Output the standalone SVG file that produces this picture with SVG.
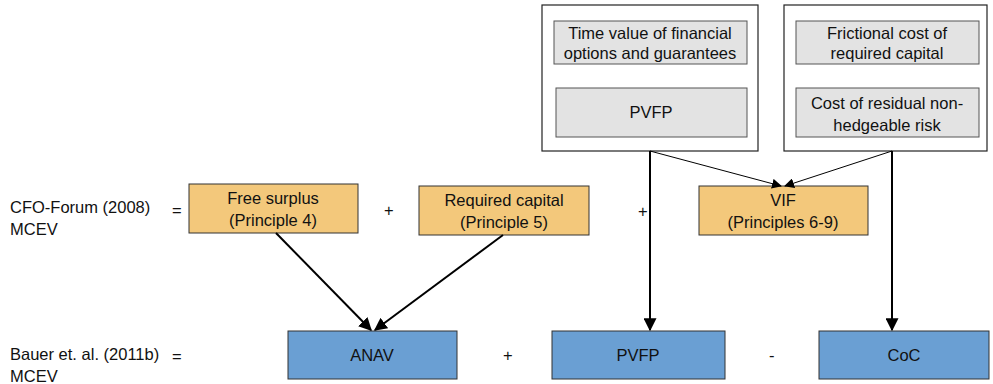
<svg xmlns="http://www.w3.org/2000/svg" width="993" height="384" viewBox="0 0 993 384">
<defs>
<style>
text{font-family:"Liberation Sans",Arial,sans-serif;font-size:16.5px;fill:#111}
.c{text-anchor:middle}
.outer{fill:#fff;stroke:#222;stroke-width:1.2}
.gray{fill:#E3E3E3;stroke:#555;stroke-width:1}
.orange{fill:#F3C87B;stroke:#333;stroke-width:1}
.blue{fill:#6A9FD3;stroke:#333;stroke-width:1}
.thick{stroke:#000;stroke-width:2;fill:none}
.thin{stroke:#000;stroke-width:1;fill:none}
</style>
<marker id="ah" viewBox="0 0 10 10" refX="9" refY="5" markerWidth="6.5" markerHeight="6.5" markerUnits="strokeWidth" orient="auto"><path d="M0,0L10,5L0,10z" fill="#000"/></marker>
<marker id="ahs" viewBox="0 0 10 10" refX="9" refY="5" markerWidth="10" markerHeight="10" markerUnits="strokeWidth" orient="auto"><path d="M0,0L10,5L0,10z" fill="#000"/></marker>
</defs>
<g id="labels">
<text x="10" y="213">CFO-Forum (2008)</text>
<text x="10" y="235">MCEV</text>
<text x="172" y="216">=</text>
<text x="384" y="216">+</text>
<text x="638" y="217">+</text>
<text x="10" y="360">Bauer et. al. (2011b)</text>
<text x="172" y="362">=</text>
<text x="10" y="382">MCEV</text>
<text x="503" y="361">+</text>
<text x="769" y="361">-</text>
</g>
<g id="group-left">
<rect class="outer" x="542" y="5" width="216" height="146"/>
</g>
<g id="group-right">
<rect class="outer" x="784" y="5" width="203" height="146"/>
</g>
<g id="tvfog">
<rect class="gray" x="554" y="21" width="193" height="43"/>
<text class="c" x="650" y="39">Time value of financial</text>
<text class="c" x="650" y="59">options and guarantees</text>
</g>
<g id="pvfp-top">
<rect class="gray" x="556" y="88" width="191" height="49"/>
<text class="c" x="651" y="118">PVFP</text>
</g>
<g id="frictional">
<rect class="gray" x="796" y="21" width="183" height="43"/>
<text class="c" x="887" y="39">Frictional cost of</text>
<text class="c" x="887" y="59">required capital</text>
</g>
<g id="crnhr">
<rect class="gray" x="796" y="88" width="183" height="49"/>
<text class="c" x="887" y="109">Cost of residual non-</text>
<text class="c" x="887" y="131">hedgeable risk</text>
</g>
<g id="free-surplus">
<rect class="orange" x="189" y="184" width="169" height="49"/>
<text class="c" x="273" y="204">Free surplus</text>
<text class="c" x="273" y="226">(Principle 4)</text>
</g>
<g id="required-capital">
<rect class="orange" x="419" y="186" width="170" height="49"/>
<text class="c" x="504" y="206">Required capital</text>
<text class="c" x="504" y="228">(Principle 5)</text>
</g>
<g id="vif">
<rect class="orange" x="699" y="186" width="169" height="49"/>
<text class="c" x="783" y="206">VIF</text>
<text class="c" x="783" y="228">(Principles 6-9)</text>
</g>
<g id="anav">
<rect class="blue" x="288" y="331" width="169" height="48"/>
<text class="c" x="372" y="361">ANAV</text>
</g>
<g id="pvfp">
<rect class="blue" x="552" y="331" width="173" height="48"/>
<text class="c" x="638" y="361">PVFP</text>
</g>
<g id="coc">
<rect class="blue" x="819" y="331" width="170" height="48"/>
<text class="c" x="904" y="361">CoC</text>
</g>
<g id="connectors">
<line class="thick" x1="276" y1="233" x2="371" y2="330" marker-end="url(#ah)"/>
<line class="thick" x1="503" y1="235" x2="375" y2="330" marker-end="url(#ah)"/>
<line class="thick" x1="650" y1="151" x2="650" y2="330" marker-end="url(#ah)"/>
<line class="thick" x1="892" y1="151" x2="892" y2="330" marker-end="url(#ah)"/>
<line class="thin" x1="650" y1="151" x2="781" y2="186" marker-end="url(#ahs)"/>
<line class="thin" x1="892" y1="151" x2="785" y2="186" marker-end="url(#ahs)"/>
</g>
</svg>
